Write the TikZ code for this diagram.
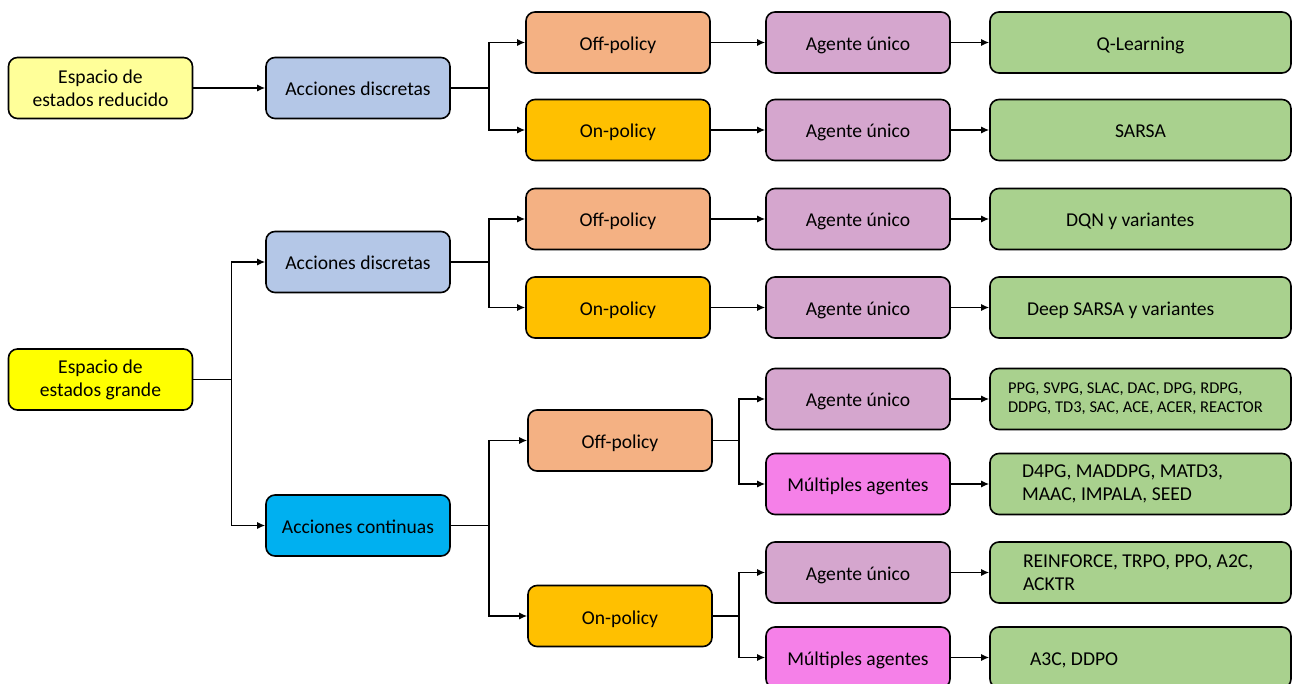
\documentclass[tikz,border=0pt]{standalone}
\usepackage{fontspec}
\setmainfont{Carlito}
\usetikzlibrary{arrows.meta}

\definecolor{paleyellow}{HTML}{FFFF99}
\definecolor{brightyellow}{HTML}{FFFF00}
\definecolor{greyblue}{HTML}{B4C7E7}
\definecolor{skyblue}{HTML}{00B0F0}
\definecolor{salmon}{HTML}{F4B183}
\definecolor{gold}{HTML}{FFC000}
\definecolor{lilac}{HTML}{D5A6CE}
\definecolor{pink}{HTML}{F580E8}
\definecolor{leaf}{HTML}{A9D18E}

\tikzset{
  box/.style={draw=black, line width=1.6pt, rounded corners=9pt,
    minimum width=184pt, minimum height=61pt, inner sep=2pt,
    align=center, font=\fontsize{19.6}{23}\selectfont},
  one/.style={text height=16pt, text depth=0pt},
  algo/.style={box, minimum width=301pt},
  algol/.style={algo, align=flush left, inner xsep=#1, text width=301pt-2*#1},
  conn/.style={line width=1.4pt, -{Latex[length=8pt,width=7pt]}},
  small/.style={font=\fontsize{16.5}{19}\selectfont}
}

\begin{document}
\begin{tikzpicture}[x=1pt, y=-1pt]
  \useasboundingbox (0,0) rectangle (1299,684);
  \clip (0,0) rectangle (1299,684);

  % ---- small state space ----
  \node[box, fill=paleyellow] (er) at (100.5,88) {Espacio de\\estados reducido};
  \node[box, one, fill=greyblue] (ad1) at (358,88) {Acciones discretas};
  \node[box, one, fill=salmon] (off1) at (618,42.5) {Off-policy};
  \node[box, one, fill=gold] (on1) at (618,130) {On-policy};
  \node[box, one, fill=lilac] (ag1) at (858,42.5) {Agente único};
  \node[box, one, fill=lilac] (ag2) at (858,130) {Agente único};
  \node[algo, one, fill=leaf] (ql) at (1140.5,42.5) {Q-Learning};
  \node[algo, one, fill=leaf] (sarsa) at (1140.5,130) {SARSA};

  % ---- large state space ----
  \node[box, fill=brightyellow] (eg) at (100.5,379.5) {Espacio de\\estados grande};
  \node[box, one, fill=greyblue] (ad2) at (358,262) {Acciones discretas};
  \node[box, one, fill=skyblue] (ac) at (358,525.5) {Acciones continuas};

  \node[box, one, fill=salmon] (off2) at (618,219) {Off-policy};
  \node[box, one, fill=gold] (on2) at (618,307.5) {On-policy};
  \node[box, one, fill=lilac] (ag3) at (858,219) {Agente único};
  \node[box, one, fill=lilac] (ag4) at (858,307.5) {Agente único};
  \node[algol=76pt, one, fill=leaf] (dqn) at (1140.5,219) {DQN y variantes};
  \node[algol=37pt, one, fill=leaf] (dsarsa) at (1140.5,307.5) {Deep SARSA y variantes};

  \node[box, one, fill=salmon] (off3) at (620,440.5) {Off-policy};
  \node[box, one, fill=gold] (on3) at (620,616) {On-policy};
  \node[box, one, fill=lilac] (ag5) at (858,399) {Agente único};
  \node[box, one, fill=pink] (mu1) at (858,484) {Múltiples agentes};
  \node[box, one, fill=lilac] (ag6) at (858,572.5) {Agente único};
  \node[box, one, fill=pink] (mu2) at (858,657.5) {Múltiples agentes};

  \node[algol=18pt, fill=leaf, small] (g5) at (1140.5,399)
    {PPG, SVPG, SLAC, DAC, DPG, RDPG,\\DDPG, TD3, SAC, ACE, ACER, REACTOR};
  \node[algol=32pt, fill=leaf] (g6) at (1140.5,484)
    {D4PG, MADDPG, MATD3,\\MAAC, IMPALA, SEED};
  \node[algol=33pt, fill=leaf] (g7) at (1140.5,572.5)
    {REINFORCE, TRPO, PPO, A2C,\\ACKTR};
  \node[algol=40pt, one, fill=leaf] (g8) at (1140.5,657.5) {A3C, DDPO};

  % ---- connectors ----
  \draw[conn] (er) -- (ad1);
  \draw[conn] (ad1.east) -- ++(38,0) |- (off1.west);
  \draw[conn] (ad1.east) -- ++(38,0) |- (on1.west);
  \draw[conn] (off1) -- (ag1);
  \draw[conn] (on1) -- (ag2);
  \draw[conn] (ag1) -- (ql);
  \draw[conn] (ag2) -- (sarsa);

  \draw[conn] (eg.east) -- ++(38,0) |- (ad2.west);
  \draw[conn] (eg.east) -- ++(38,0) |- (ac.west);
  \draw[conn] (ad2.east) -- ++(38,0) |- (off2.west);
  \draw[conn] (ad2.east) -- ++(38,0) |- (on2.west);
  \draw[conn] (off2) -- (ag3);
  \draw[conn] (on2) -- (ag4);
  \draw[conn] (ag3) -- (dqn);
  \draw[conn] (ag4) -- (dsarsa);

  \draw[conn] (ac.east) -- ++(38,0) |- (off3.west);
  \draw[conn] (ac.east) -- ++(38,0) |- (on3.west);
  \draw[conn] (off3.east) -- ++(26,0) |- (ag5.west);
  \draw[conn] (off3.east) -- ++(26,0) |- (mu1.west);
  \draw[conn] (on3.east) -- ++(26,0) |- (ag6.west);
  \draw[conn] (on3.east) -- ++(26,0) |- (mu2.west);
  \draw[conn] (ag5) -- (g5);
  \draw[conn] (mu1) -- (g6);
  \draw[conn] (ag6) -- (g7);
  \draw[conn] (mu2) -- (g8);
\end{tikzpicture}
\end{document}
